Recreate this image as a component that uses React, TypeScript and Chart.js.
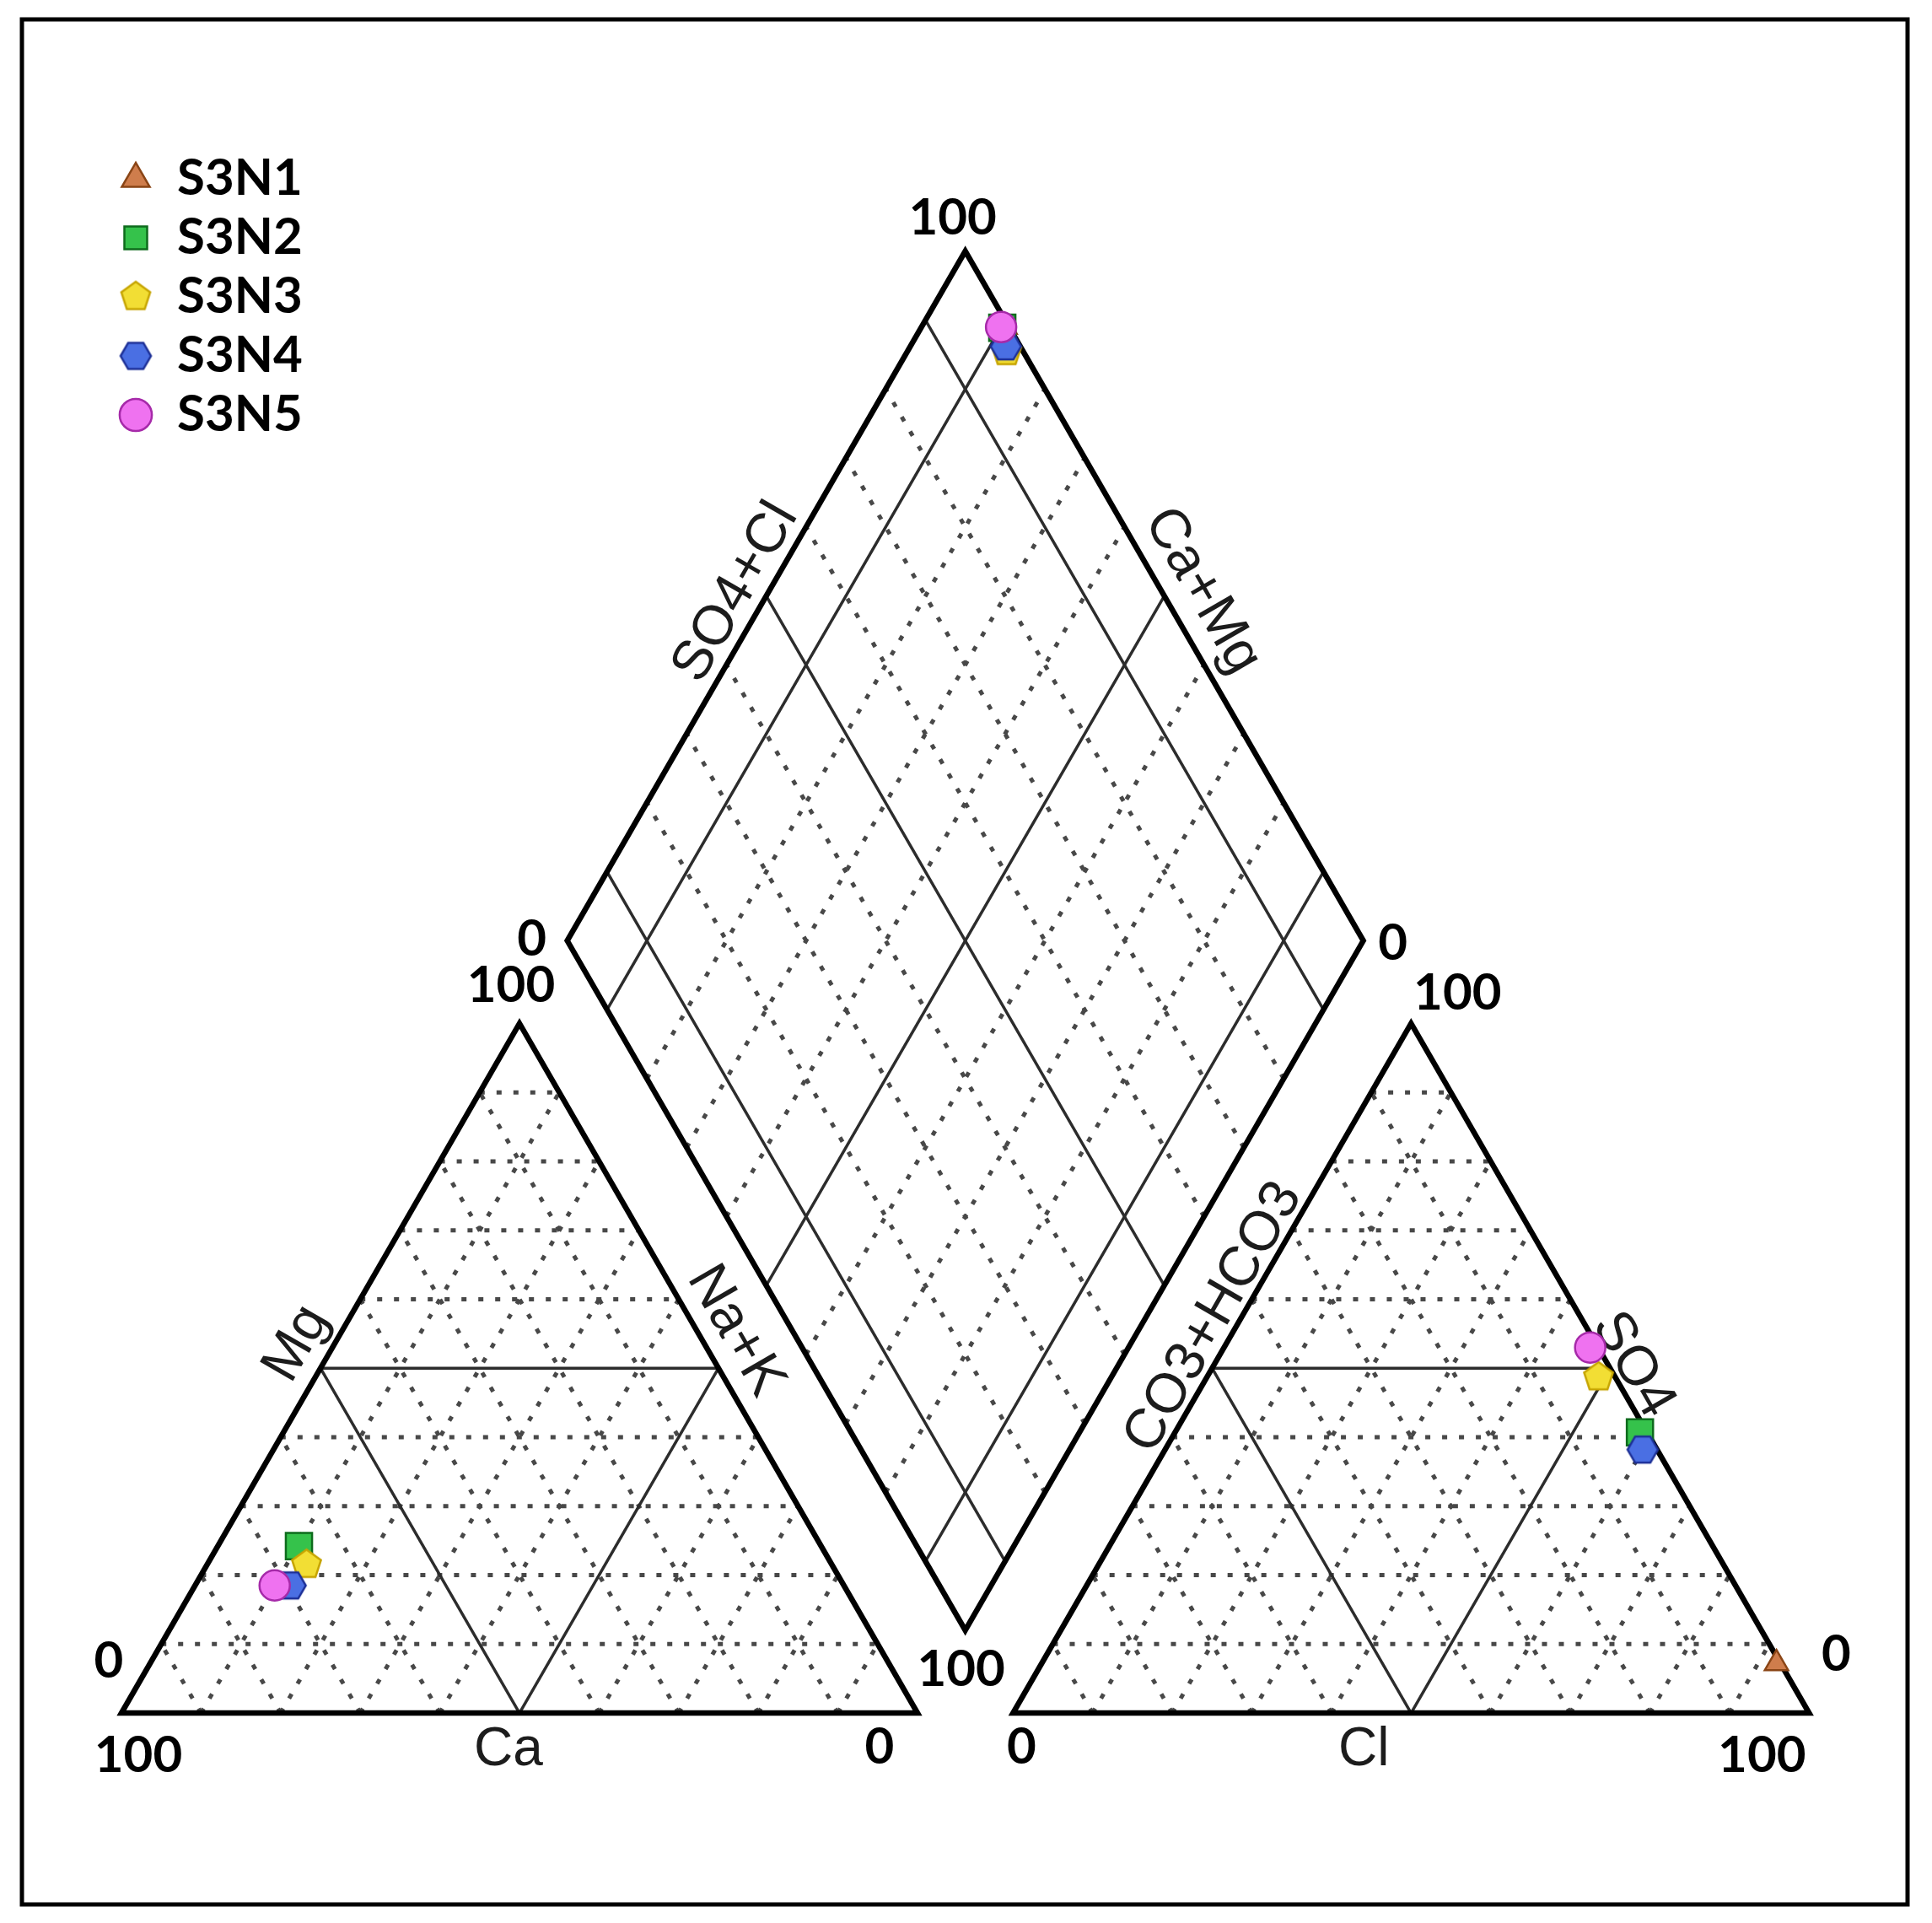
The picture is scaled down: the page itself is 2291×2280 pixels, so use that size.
import React, { useEffect, useRef } from 'react';
import { Chart, registerables } from 'chart.js';

Chart.register(...registerables);

// ---------------- data (percent of meq) ----------------
const SAMPLES = ['S3N1', 'S3N2', 'S3N3', 'S3N4', 'S3N5'];
// cations
const CA = [65.5, 65.6, 66.0, 69.5, 71.5];
const MG = [24.0, 24.2, 21.5, 18.5, 18.5];
const NAK = [10.5, 10.2, 12.5, 12.0, 10.0];
// anions
const CL = [92.3, 58.4, 49.2, 60.0, 46.0];
const SO4 = [7.2, 40.7, 48.7, 38.2, 53.0];
const HCO3 = [0.5, 0.9, 2.1, 1.8, 1.0];

// grid / tick definitions
const GRID_PCT = [10, 20, 30, 40, 50, 60, 70, 80, 90];
const TRIANGLE_SOLID_PCT = [50];
const DIAMOND_SOLID_PCT = [10, 50, 90];
const TICK_MIN = '0';
const TICK_MAX = '100';
const CATION_AXES = ['Ca', 'Mg', 'Na+K'];
const ANION_AXES = ['Cl', 'SO4', 'CO3+HCO3'];
const DIAMOND_AXES = ['SO4+Cl', 'Ca+Mg'];

// ---------------- styles ----------------
const FILL = ['#cf7d4c', '#35c24b', '#f2de34', '#4a6fe3', '#ef72f0'];
const EDGE = ['#8a4516', '#0e6b1d', '#c6a400', '#1c2f96', '#a62aa9'];

// ---------------- geometry (piper units) ----------------
const SIDE = 100;
const GAP = 12;
const HF = Math.sqrt(3) / 2;
const RX0 = SIDE + GAP;
const DB = [SIDE + GAP / 2, GAP * HF];
const U = [0.5, HF];
const V = [-0.5, HF];

// page / layout
const CW = 2291;
const CH = 2280;
const PX_PER_UNIT = 9.44;
const ORIGIN_PX = [144, 2031];
const PAD_LEFT = 132;
const XMIN = (PAD_LEFT - ORIGIN_PX[0]) / PX_PER_UNIT;
const XMAX = XMIN + (CW - PAD_LEFT) / PX_PER_UNIT;
const YMAX = ORIGIN_PX[1] / PX_PER_UNIT;
const YMIN = YMAX - CH / PX_PER_UNIT;

function cationPoint(i: number) {
  const t = CA[i] + MG[i] + NAK[i];
  const mg = MG[i] / t;
  const na = NAK[i] / t;
  return { x: (na + mg / 2) * SIDE, y: mg * SIDE * HF };
}
function anionPoint(i: number) {
  const t = CL[i] + SO4[i] + HCO3[i];
  const so4 = SO4[i] / t;
  const cl = CL[i] / t;
  return { x: RX0 + (cl + so4 / 2) * SIDE, y: so4 * SIDE * HF };
}
function diamondPoint(i: number) {
  const s = (SO4[i] + CL[i]) / (CL[i] + SO4[i] + HCO3[i]);
  const c = (CA[i] + MG[i]) / (CA[i] + MG[i] + NAK[i]);
  return {
    x: DB[0] + (s * U[0] + c * V[0]) * SIDE,
    y: DB[1] + (s * U[1] + c * V[1]) * SIDE,
  };
}

function polygonMarker(sides: number, r: number, fill: string, stroke: string, lw: number, rot: number) {
  const size = Math.ceil(2 * r + 2 * lw + 4);
  const c = document.createElement('canvas');
  c.width = size;
  c.height = size;
  const ctx = c.getContext('2d')!;
  ctx.beginPath();
  for (let k = 0; k < sides; k++) {
    const a = rot + (k * 2 * Math.PI) / sides;
    const x = size / 2 + r * Math.cos(a);
    const y = size / 2 + r * Math.sin(a);
    if (k === 0) ctx.moveTo(x, y);
    else ctx.lineTo(x, y);
  }
  ctx.closePath();
  ctx.fillStyle = fill;
  ctx.fill();
  ctx.lineWidth = lw;
  ctx.strokeStyle = stroke;
  ctx.stroke();
  return c;
}

type Seg = { a: number[]; b: number[]; pct: number };

function triangleSegs(x0: number): Seg[] {
  const out: Seg[] = [];
  GRID_PCT.forEach((p) => {
    out.push({ a: [x0 + p / 2, p * HF], b: [x0 + SIDE - p / 2, p * HF], pct: p });
    out.push({ a: [x0 + p, 0], b: [x0 + p + (SIDE - p) / 2, (SIDE - p) * HF], pct: p });
    out.push({ a: [x0 + SIDE - p, 0], b: [x0 + (SIDE - p) / 2, (SIDE - p) * HF], pct: p });
  });
  return out;
}
function diamondSegs(): Seg[] {
  const out: Seg[] = [];
  GRID_PCT.forEach((p) => {
    const f = p / 100;
    const a1 = [DB[0] + f * SIDE * U[0], DB[1] + f * SIDE * U[1]];
    out.push({ a: a1, b: [a1[0] + SIDE * V[0], a1[1] + SIDE * V[1]], pct: p });
    const a2 = [DB[0] + f * SIDE * V[0], DB[1] + f * SIDE * V[1]];
    out.push({ a: a2, b: [a2[0] + SIDE * U[0], a2[1] + SIDE * U[1]], pct: p });
  });
  return out;
}

const piperPlugin = {
  id: 'piperGrid',
  beforeDatasetsDraw(chart: any) {
    const { ctx } = chart;
    const xs = chart.scales.x;
    const ys = chart.scales.y;
    const P = (p: number[]) => [xs.getPixelForValue(p[0]), ys.getPixelForValue(p[1])];
    ctx.save();

    // outer frame
    ctx.strokeStyle = '#000';
    ctx.lineWidth = 5;
    ctx.setLineDash([]);
    ctx.strokeRect(26, 23, 2236, 2235);

    const triL = triangleSegs(0);
    const triR = triangleSegs(RX0);
    const dia = diamondSegs();

    const strokeSeg = (s: Seg) => {
      const a = P(s.a);
      const b = P(s.b);
      ctx.beginPath();
      ctx.moveTo(a[0], a[1]);
      ctx.lineTo(b[0], b[1]);
      ctx.stroke();
    };

    // dotted grid
    ctx.strokeStyle = '#484848';
    ctx.lineWidth = 5;
    ctx.lineCap = 'butt';
    ctx.setLineDash([6, 14]);
    [...triL, ...triR].filter((s) => !TRIANGLE_SOLID_PCT.includes(s.pct)).forEach(strokeSeg);
    dia.filter((s) => !DIAMOND_SOLID_PCT.includes(s.pct)).forEach(strokeSeg);

    // solid internal lines
    ctx.setLineDash([]);
    ctx.strokeStyle = '#2c2c2c';
    ctx.lineWidth = 3.5;
    [...triL, ...triR].filter((s) => TRIANGLE_SOLID_PCT.includes(s.pct)).forEach(strokeSeg);
    dia.filter((s) => DIAMOND_SOLID_PCT.includes(s.pct)).forEach(strokeSeg);

    // outlines
    ctx.strokeStyle = '#000';
    ctx.lineWidth = 6.5;
    ctx.lineJoin = 'miter';
    const poly = (pts: number[][]) => {
      ctx.beginPath();
      pts.forEach((p, k) => {
        const q = P(p);
        if (k === 0) ctx.moveTo(q[0], q[1]);
        else ctx.lineTo(q[0], q[1]);
      });
      ctx.closePath();
      ctx.stroke();
    };
    poly([[0, 0], [SIDE, 0], [SIDE / 2, SIDE * HF]]);
    poly([[RX0, 0], [RX0 + SIDE, 0], [RX0 + SIDE / 2, SIDE * HF]]);
    const dTop = [DB[0] + SIDE * (U[0] + V[0]), DB[1] + SIDE * (U[1] + V[1])];
    const dLeft = [DB[0] + SIDE * V[0], DB[1] + SIDE * V[1]];
    const dRight = [DB[0] + SIDE * U[0], DB[1] + SIDE * U[1]];
    poly([DB, dRight, dTop, dLeft]);

    // texts
    const NUM = 'bold 60px Lato';
    const LAB = '66px "Liberation Sans"';
    const LAB_B = '64px "Liberation Sans"';
    const txt = (t: string, anchor: number[], dx: number, dy: number, font: string, rotDeg = 0) => {
      const q = P(anchor);
      ctx.save();
      ctx.translate(q[0] + dx, q[1] + dy);
      ctx.rotate((rotDeg * Math.PI) / 180);
      ctx.font = font;
      ctx.fillStyle = font === NUM ? '#000' : '#1c1c1c';
      ctx.textAlign = 'center';
      ctx.textBaseline = 'middle';
      ctx.fillText(t, 0, 0);
      ctx.restore();
    };
    const mid = (a: number[], b: number[]) => [(a[0] + b[0]) / 2, (a[1] + b[1]) / 2];

    // diamond
    txt(TICK_MAX, dTop, -15, -39, NUM);
    txt(TICK_MIN, dLeft, -42, -2, NUM);
    txt(TICK_MIN, dRight, 35, 3, NUM);
    txt(TICK_MAX, DB, -5, 47, NUM);
    txt(DIAMOND_AXES[0], mid(dLeft, dTop), -36, -4, LAB, -60);
    txt(DIAMOND_AXES[1], mid(dRight, dTop), 45, -6, LAB, 60);

    // cation triangle
    txt(TICK_MAX, [SIDE / 2, SIDE * HF], -10, -45, NUM);
    txt(TICK_MIN, [0, 0], -15, -61, NUM);
    txt(TICK_MAX, [0, 0], 20, 51, NUM);
    txt(TICK_MIN, [SIDE, 0], -45, 41, NUM);
    txt(CATION_AXES[0], [SIDE / 2, 0], -13, 44, LAB_B);
    txt(CATION_AXES[1], [SIDE / 4, (SIDE / 2) * HF], -28, -29, LAB, -60);
    txt(CATION_AXES[2], [(3 * SIDE) / 4, (SIDE / 2) * HF], 20, -44, LAB, 60);

    // anion triangle
    txt(TICK_MAX, [RX0 + SIDE / 2, SIDE * HF], 55, -36, NUM);
    txt(TICK_MIN, [RX0, 0], 10, 41, NUM);
    txt(TICK_MAX, [RX0 + SIDE, 0], -56, 51, NUM);
    txt(TICK_MIN, [RX0 + SIDE, 0], 32, -69, NUM);
    txt(ANION_AXES[0], [RX0 + SIDE / 2, 0], -56, 44, LAB_B);
    txt(ANION_AXES[1], [RX0 + (3 * SIDE) / 4, (SIDE / 2) * HF], 27, -4, LAB, 60);
    txt(ANION_AXES[2], [RX0 + SIDE / 4, (SIDE / 2) * HF], 2, -60, LAB, -60);

    ctx.restore();
  },
};

export default function App() {
  const ref = useRef<HTMLCanvasElement>(null);

  useEffect(() => {
    const canvas = ref.current;
    if (!canvas) return;

    const pentagon = polygonMarker(5, 18, FILL[2], EDGE[2], 2.5, -Math.PI / 2);
    const hexagon = polygonMarker(6, 18, FILL[3], EDGE[3], 2.5, 0);
    const styles: any[] = ['triangle', 'rect', pentagon, hexagon, 'circle'];
    const radii = [16, 22, 18, 18, 18];

    const datasets = SAMPLES.map((name, i) => ({
      label: name,
      data: [cationPoint(i), anionPoint(i), diamondPoint(i)],
      pointStyle: styles[i],
      pointRadius: radii[i],
      pointHoverRadius: radii[i],
      backgroundColor: FILL[i],
      borderColor: EDGE[i],
      borderWidth: 2.5,
      showLine: false,
      clip: false as any,
      // later samples drawn on top
      order: SAMPLES.length - i,
    }));

    const chart = new Chart(canvas, {
      type: 'scatter',
      data: { datasets },
      plugins: [piperPlugin],
      options: {
        animation: false,
        responsive: false,
        events: [],
        layout: { autoPadding: false, padding: { left: PAD_LEFT, top: 0, right: 0, bottom: 0 } },
        scales: {
          x: { type: 'linear', display: false, min: XMIN, max: XMAX, bounds: 'data' },
          y: { type: 'linear', display: false, min: YMIN, max: YMAX, bounds: 'data' },
        },
        plugins: {
          tooltip: { enabled: false },
          legend: {
            position: 'chartArea' as any,
            align: 'start',
            title: {
              display: true,
              text: '',
              font: { size: 20, lineHeight: 1 },
              padding: { top: 152, bottom: 0 },
            },
            labels: {
              usePointStyle: true,
              boxWidth: 38,
              boxHeight: 27,
              padding: 10,
              color: '#000',
              font: { family: 'Lato', size: 60, weight: 'bold', lineHeight: 1 },
              sort: (a: any, b: any) => a.datasetIndex - b.datasetIndex,
            },
          },
        },
      },
    });
    return () => chart.destroy();
  }, []);

  return (
    <div style={{ position: 'absolute', left: 0, top: 0, width: CW, height: CH, background: '#fff' }}>
      <canvas ref={ref} width={CW} height={CH} style={{ display: 'block', width: CW, height: CH }} />
    </div>
  );
}
